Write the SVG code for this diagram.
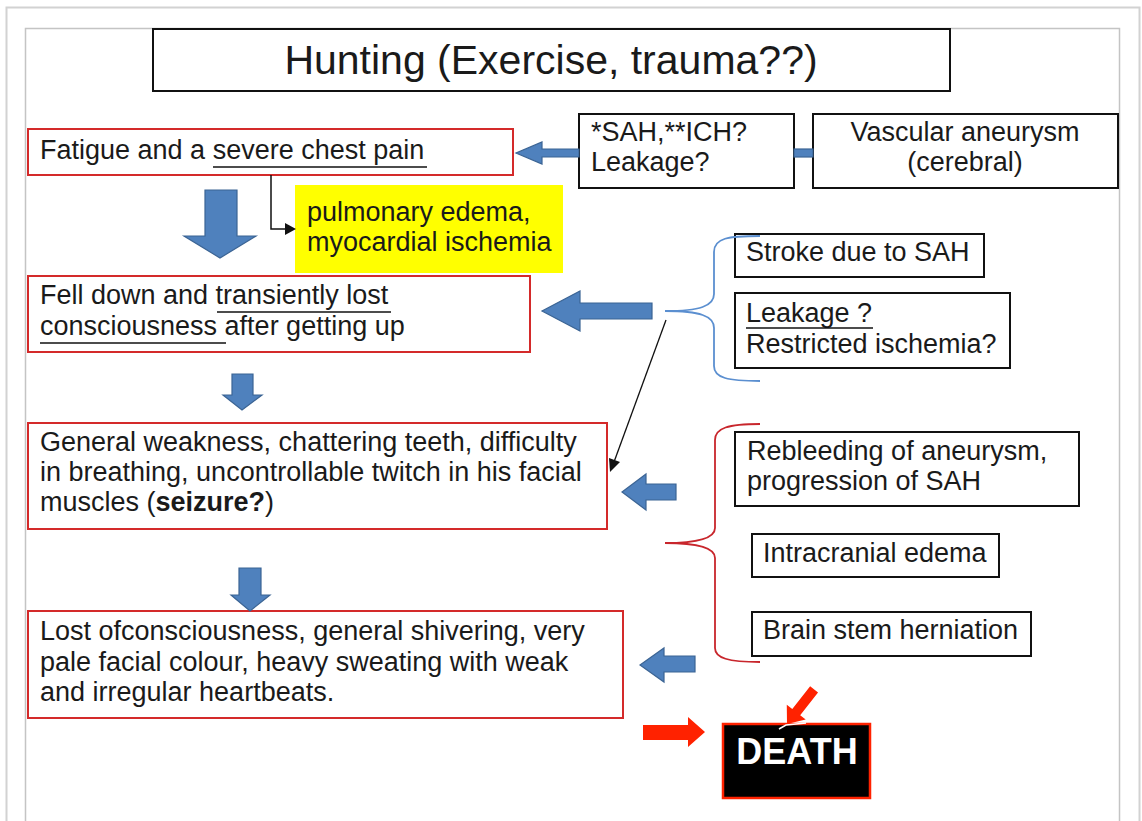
<svg xmlns="http://www.w3.org/2000/svg" width="1142" height="821" viewBox="0 0 1142 821">
<style>
text{font-family:"Liberation Sans",Arial,sans-serif;fill:#1a1a1a;}
.t{font-size:27px;}
.rb{fill:#fff;stroke:#d42a2a;stroke-width:2;}
.bb{fill:#fff;stroke:#111;stroke-width:2;}
.ba{fill:#4f81bd;stroke:#3b6494;stroke-width:1.2;}
.ra{fill:#ff2200;}
.ul{stroke:#111;stroke-width:1.6;}
</style>
<rect x="6.5" y="7.5" width="1133" height="830" fill="#fff" stroke="#d2d2d2" stroke-width="2"/>
<rect x="25.5" y="28.5" width="1094" height="810" fill="#fff" stroke="#c4c4c4" stroke-width="1.5"/>

<g id="title"><rect class="bb" x="153" y="29" width="797" height="62"/><text x="551" y="74" font-size="41" text-anchor="middle">Hunting (Exercise, trauma??)</text></g>

<g id="n-fatigue"><rect class="rb" x="28" y="129" width="485" height="46"/><text class="t" x="40" y="159">Fatigue and a severe chest pain</text><line class="ul" x1="213" y1="167" x2="427" y2="167"/></g>

<g id="n-sah"><rect class="bb" x="579" y="114" width="215" height="74"/><text class="t" x="591" y="141">*SAH,**ICH?</text><text class="t" x="591" y="171">Leakage?</text></g>

<g id="n-vascular"><rect class="bb" x="813" y="114" width="305" height="74"/><text class="t" x="965" y="141" text-anchor="middle">Vascular aneurysm</text><text class="t" x="965" y="171" text-anchor="middle">(cerebral)</text></g>

<g id="n-pulmonary"><rect x="295" y="185" width="268" height="88" fill="#ffff00"/><text class="t" x="307" y="221">pulmonary edema,</text><text class="t" x="307" y="251">myocardial ischemia</text></g>

<g id="n-fell"><rect class="rb" x="28" y="276" width="502" height="76"/><text class="t" x="40" y="304">Fell down and transiently lost</text><text class="t" x="40" y="335">consciousness after getting up</text><line class="ul" x1="217" y1="312" x2="391" y2="312"/><line class="ul" x1="40" y1="343" x2="226" y2="343"/></g>

<g id="n-stroke"><rect class="bb" x="735" y="234" width="249" height="43"/><text class="t" x="746" y="261">Stroke due to SAH</text></g>

<g id="n-leakage"><rect class="bb" x="735" y="293" width="275" height="75"/><text class="t" x="746" y="322">Leakage ?</text><text class="t" x="746" y="353">Restricted ischemia?</text><line class="ul" x1="746" y1="328" x2="873" y2="328"/></g>

<g id="n-weakness"><rect class="rb" x="28" y="423" width="579" height="106"/><text class="t" x="40" y="451">General weakness, chattering teeth, difficulty</text><text class="t" x="40" y="481">in breathing, uncontrollable twitch in his facial</text><text class="t" x="40" y="511">muscles (<tspan font-weight="bold">seizure?</tspan>)</text></g>

<g id="n-rebleeding"><rect class="bb" x="735" y="432" width="344" height="74"/><text class="t" x="747" y="460">Rebleeding of aneurysm,</text><text class="t" x="747" y="490">progression of SAH</text></g>

<g id="n-edema"><rect class="bb" x="752" y="534" width="247" height="43"/><text class="t" x="763" y="562">Intracranial edema</text></g>

<g id="n-herniation"><rect class="bb" x="752" y="612" width="279" height="44"/><text class="t" x="763" y="639">Brain stem herniation</text></g>

<g id="n-lost"><rect class="rb" x="28" y="611" width="595" height="107"/><text class="t" x="40" y="640">Lost ofconsciousness, general shivering, very</text><text class="t" x="40" y="671">pale facial colour, heavy sweating with weak</text><text class="t" x="40" y="701">and irregular heartbeats.</text></g>

<g id="n-death"><rect x="723" y="724" width="147" height="74" fill="#000" stroke="#ff2200" stroke-width="2.5"/><text x="797" y="764" font-size="36" font-weight="bold" text-anchor="middle" style="fill:#fff">DEATH</text><polyline points="779,729 786,725 806,723" fill="none" stroke="#fff" stroke-width="1.5"/></g>

<g id="connectors">
<polygon class="ba" points="579,149 542,149 542,142 516,153 542,164 542,157 579,157"/>
<rect class="ba" x="794" y="149" width="19" height="8"/>
<polyline points="271,175 271,229 286,229" fill="none" stroke="#111" stroke-width="1.5"/>
<polygon points="296,229 285,223 285,235" fill="#111"/>
<polygon class="ba" points="205,190 237,190 237,236 256,236 220,258 184,236 205,236"/>
<polygon class="ba" points="652,303 580,303 580,291 542,311 580,331 580,319 652,319"/>
<path d="M760,236 C728,236 714,238 714,252 L714,294 C714,306 700,311 665,311 C700,311 714,316 714,328 L714,366 C714,378 728,381 760,381" fill="none" stroke="#5b8fd0" stroke-width="1.8"/>
<line x1="666" y1="320" x2="614" y2="462" stroke="#111" stroke-width="1.3"/>
<polygon points="610,472 609,458 620,462" fill="#111"/>
<polygon class="ba" points="232,374 253,374 253,395 262,395 242,410 223,395 232,395"/>
<polygon class="ba" points="676,484 646,484 646,474 622,492 646,510 646,500 676,500"/>
<path d="M760,424 C728,424 715,428 715,440 L715,528 C715,538 700,543 665,543 C700,543 715,548 715,558 L715,648 C715,658 728,662 760,662" fill="none" stroke="#c8262c" stroke-width="1.8"/>
<polygon class="ba" points="239,568 261,568 261,595 270,595 250,611 231,595 239,595"/>
<polygon class="ba" points="695,656 664,656 664,648 640,665 664,682 664,672 695,672"/>
<polygon class="ra" points="643,725 688,725 688,717 705,732 688,747 688,740 643,740"/>
<polygon class="ra" transform="translate(787,724) rotate(-52)" points="0,0 15,-12 15,-5 44,-5 44,5 15,5 15,12"/>
</g>
</svg>
